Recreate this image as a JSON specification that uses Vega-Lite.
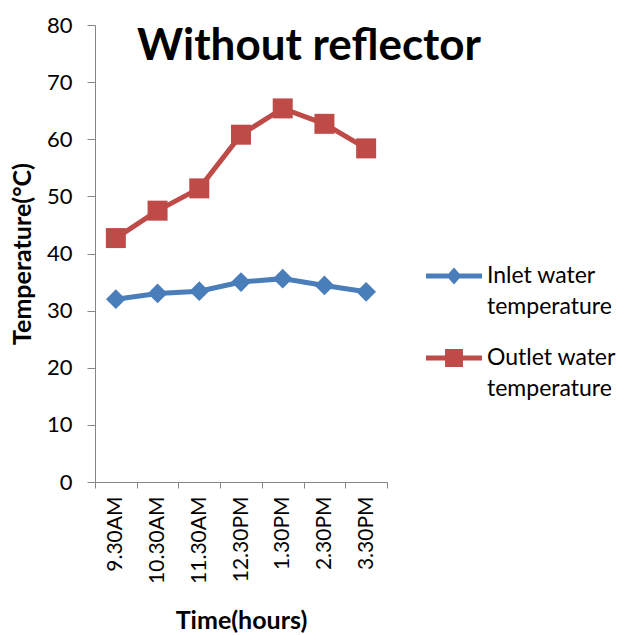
{
  "$schema": "https://vega.github.io/schema/vega-lite/v6.json",
  "autosize": "none",
  "width": 292,
  "height": 457,
  "padding": {"left": 95, "top": 25, "right": 240, "bottom": 153},
  "background": "white",
  "title": {
    "text": "Without reflector",
    "font": "Lato",
    "fontSize": 44,
    "fontWeight": "bold",
    "color": "black",
    "anchor": "start",
    "frame": "group",
    "dx": 42,
    "dy": 40,
    "offset": -50,
    "baseline": "alphabetic"
  },
  "data": {
    "values": [
      {"series": "Inlet water temperature", "time": "9.30AM", "temp": 32.0},
      {"series": "Inlet water temperature", "time": "10.30AM", "temp": 33.0},
      {"series": "Inlet water temperature", "time": "11.30AM", "temp": 33.4},
      {"series": "Inlet water temperature", "time": "12.30PM", "temp": 35.0},
      {"series": "Inlet water temperature", "time": "1.30PM", "temp": 35.6},
      {"series": "Inlet water temperature", "time": "2.30PM", "temp": 34.4},
      {"series": "Inlet water temperature", "time": "3.30PM", "temp": 33.3},
      {"series": "Outlet water temperature", "time": "9.30AM", "temp": 42.7},
      {"series": "Outlet water temperature", "time": "10.30AM", "temp": 47.5},
      {"series": "Outlet water temperature", "time": "11.30AM", "temp": 51.4},
      {"series": "Outlet water temperature", "time": "12.30PM", "temp": 60.8},
      {"series": "Outlet water temperature", "time": "1.30PM", "temp": 65.4},
      {"series": "Outlet water temperature", "time": "2.30PM", "temp": 62.7},
      {"series": "Outlet water temperature", "time": "3.30PM", "temp": 58.4}
    ]
  },
  "encoding": {
    "x": {
      "field": "time",
      "type": "ordinal",
      "sort": ["9.30AM", "10.30AM", "11.30AM", "12.30PM", "1.30PM", "2.30PM", "3.30PM"],
      "scale": {"type": "band", "paddingInner": 0, "paddingOuter": 0},
      "axis": {
        "title": "Time(hours)",
        "titleFont": "Lato",
        "titleFontSize": 25,
        "titleFontWeight": "bold",
        "titleColor": "black",
        "titlePadding": 25,
        "labelFont": "Lato",
        "labelFontSize": 21,
        "labelColor": "black",
        "labelAngle": -90,
        "labelPadding": 8,
        "tickBand": "extent",
        "tickSize": 6,
        "tickColor": "#868686",
        "domainColor": "#868686",
        "grid": false
      }
    },
    "y": {
      "field": "temp",
      "type": "quantitative",
      "scale": {"domain": [0, 80], "nice": false},
      "axis": {
        "title": "Temperature(°C)",
        "titleFont": "Lato",
        "titleFontSize": 25,
        "titleFontWeight": "bold",
        "titleColor": "black",
        "titlePadding": 11,
        "labelFont": "Lato",
        "labelFontSize": 22,
        "labelColor": "black",
        "labelPadding": 15,
        "values": [0, 10, 20, 30, 40, 50, 60, 70, 80],
        "tickSize": 8,
        "tickColor": "#868686",
        "domainColor": "#868686",
        "grid": false
      }
    },
    "color": {
      "field": "series",
      "type": "nominal",
      "scale": {"domain": ["Inlet water temperature", "Outlet water temperature"], "range": ["#4A7EBB", "#BE4B48"]},
      "legend": {
        "title": null,
        "orient": "none",
        "legendX": 331,
        "legendY": 223,
        "symbolSize": 3136,
        "labelFont": "Lato",
        "labelFontSize": 23,
        "labelColor": "black",
        "labelLimit": 300,
        "labelOffset": 5,
        "labelBaseline": "middle",
        "rowPadding": 11,
        "labelExpr": "datum.label == 'Inlet water temperature' ? ['Inlet water', 'temperature'] : ['Outlet water', 'temperature']",
        "encode": {
          "labels": {"update": {"lineHeight": {"value": 31}, "dy": {"value": 0}}},
          "symbols": {
            "update": {
              "shape": {"signal": "datum.value == 'Inlet water temperature' ? 'M-1,-0.09L1,-0.09L1,0.09L-1,0.09Z M0,-0.3L0.27,0L0,0.3L-0.27,0Z' : 'M-1,-0.09L1,-0.09L1,0.09L-1,0.09Z M-0.32,-0.32L0.32,-0.32L0.32,0.32L-0.32,0.32Z'"},
              "size": {"value": 3136},
              "fill": {"signal": "datum.value == 'Inlet water temperature' ? '#4A7EBB' : '#BE4B48'"},
              "fillOpacity": {"value": 1},
              "strokeWidth": {"value": 0},
              "opacity": {"value": 1}
            }
          }
        }
      }
    }
  },
  "layer": [
    {"mark": {"type": "line", "strokeWidth": 5}},
    {
      "transform": [{"filter": "datum.series == 'Inlet water temperature'"}],
      "mark": {"type": "point", "filled": true, "opacity": 1, "size": 390, "shape": "diamond"}
    },
    {
      "transform": [{"filter": "datum.series == 'Outlet water temperature'"}],
      "mark": {"type": "point", "filled": true, "opacity": 1, "size": 400, "shape": "square"}
    }
  ],
  "config": {"view": {"stroke": null}}
}
